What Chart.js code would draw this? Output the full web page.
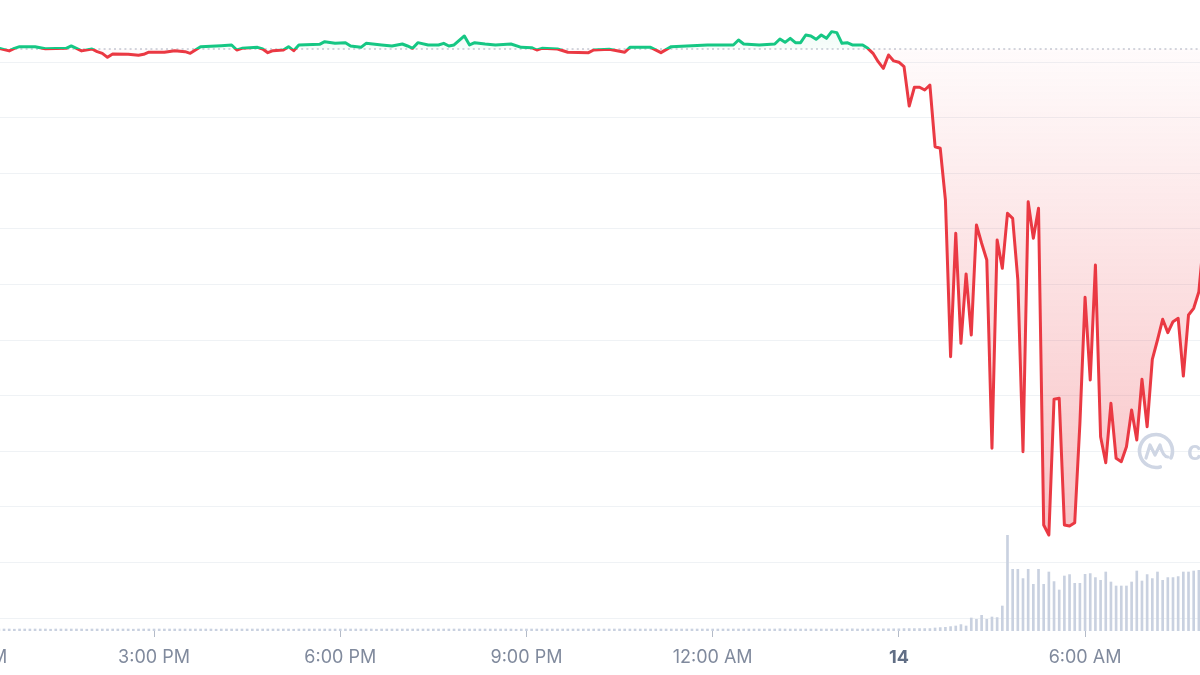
<!DOCTYPE html>
<html>
<head>
<meta charset="utf-8">
<script src="https://cdn.jsdelivr.net/npm/chart.js@4.4.0/dist/chart.umd.min.js"></script>
<style>
  html, body { margin: 0; padding: 0; background: #ffffff; overflow: hidden; width: 1200px; height: 675px; }
  #wrap { position: absolute; left: -120px; top: 0; width: 1440px; height: 675px; }
</style>
</head>
<body>
<div id="wrap"><canvas id="c"></canvas></div>
<script>
// ---------- DATA ----------
// x values are minutes after 12:00 PM (day 13)
const OPEN_PRICE = 1.0117;

const priceMinutes = [
  -10, 10, 20, 30, 40, 45, 50, 65, 75, 95, 100, 105, 110, 120, 125, 130, 135, 140, 155, 165,
  170, 175, 190, 200, 210, 215, 220, 225, 245, 255, 260, 265, 280, 285, 290, 295, 305, 310, 315, 320,
  340, 345, 355, 365, 370, 380, 385, 400, 410, 420, 425, 430, 435, 445, 455, 460, 465, 470, 480, 485,
  490, 500, 510, 525, 535, 545, 550, 555, 570, 580, 600, 605, 620, 635, 640, 660, 670, 680, 700, 715,
  740, 745, 750, 765, 780, 785, 790, 795, 800, 805, 810, 815, 820, 825, 830, 835, 840, 845, 850, 855,
  865, 870, 875, 880, 885, 890, 895, 900, 905, 910, 915, 920, 925, 930, 935, 940, 945, 950, 955, 960,
  965, 970, 975, 980, 985, 990, 995, 1000, 1005, 1010, 1015, 1020, 1025, 1030, 1035, 1040, 1045, 1050, 1055, 1060,
  1065, 1070, 1075, 1080, 1085, 1090, 1095, 1100, 1105, 1110, 1115, 1120, 1125, 1130, 1135, 1140, 1145, 1150, 1155, 1160,
  1165, 1170, 1175, 1180, 1185, 1190, 1195, 1200
];
const priceValues = [
  1.0128, 1.0120, 1.0128, 1.0123, 1.0100, 1.0123, 1.0138, 1.0138, 1.0120, 1.0123, 1.0144, 1.0123, 1.0100, 1.0117, 1.0093, 1.0078, 1.0042, 1.0072, 1.0069, 1.0060,
  1.0069, 1.0088, 1.0088, 1.0102, 1.0093, 1.0078, 1.0108, 1.0138, 1.0147, 1.0153, 1.0108, 1.0123, 1.0132, 1.0117, 1.0084, 1.0102, 1.0108, 1.0138, 1.0102, 1.0153,
  1.0159, 1.0183, 1.0168, 1.0174, 1.0144, 1.0132, 1.0168, 1.0153, 1.0144, 1.0162, 1.0144, 1.0123, 1.0174, 1.0153, 1.0153, 1.0168, 1.0144, 1.0153, 1.0234, 1.0153,
  1.0174, 1.0162, 1.0153, 1.0162, 1.0132, 1.0129, 1.0108, 1.0123, 1.0117, 1.0088, 1.0084, 1.0108, 1.0114, 1.0088, 1.0132, 1.0132, 1.0084, 1.0138, 1.0147, 1.0153,
  1.0153, 1.0198, 1.0162, 1.0153, 1.0162, 1.0207, 1.0177, 1.0213, 1.0174, 1.0174, 1.0243, 1.0234, 1.0204, 1.0243, 1.0213, 1.0273, 1.0264, 1.0168, 1.0174, 1.0153,
  1.0153, 1.0123, 1.0078, 1.0003, 0.9943, 1.0063, 1.0010, 0.9998, 0.9958, 0.9604, 0.9773, 0.9773, 0.9748, 0.9793, 0.9238, 0.9224, 0.8759, 0.7350, 0.8460, 0.7470,
  0.8094, 0.7545, 0.8534, 0.8370, 0.8219, 0.6526, 0.8399, 0.8145, 0.8639, 0.8594, 0.8040, 0.6496, 0.8744, 0.8415, 0.8684, 0.5836, 0.5746, 0.6967, 0.6976, 0.5836,
  0.5827, 0.5857, 0.6750, 0.7884, 0.7140, 0.8174, 0.6630, 0.6397, 0.6931, 0.6436, 0.6406, 0.6540, 0.6871, 0.6601, 0.7147, 0.6720, 0.7326, 0.7500, 0.7686, 0.7566,
  0.7665, 0.7695, 0.7176, 0.7725, 0.7785, 0.7934, 0.8444, 0.8759
];

// volume: one bar every 5 minutes, starting at minute 30
const VOLUME_START = 30;
const VOLUME_STEP = 5;
const volumeValues = [
  20, 20, 20, 18, 20, 20, 20, 20, 20, 20, 18, 20,
  20, 20, 20, 20, 20, 18, 20, 20, 20, 20, 20, 20,
  20, 20, 18, 20, 20, 20, 20, 20, 20, 20, 20, 20,
  20, 20, 20, 20, 20, 20, 18, 20, 20, 20, 20, 20,
  20, 20, 20, 20, 20, 20, 20, 20, 20, 18, 20, 20,
  20, 20, 20, 20, 20, 20, 20, 20, 20, 20, 20, 20,
  20, 18, 20, 20, 20, 20, 20, 20, 20, 20, 20, 20,
  20, 20, 20, 20, 20, 20, 20, 20, 20, 20, 20, 20,
  20, 20, 20, 20, 18, 20, 20, 20, 20, 20, 20, 20,
  20, 20, 20, 20, 20, 20, 20, 20, 20, 20, 20, 20,
  20, 20, 20, 20, 20, 20, 20, 20, 20, 20, 20, 20,
  20, 20, 20, 20, 20, 20, 20, 20, 20, 20, 20, 20,
  20, 20, 20, 20, 20, 20, 20, 22, 20, 20, 20, 20,
  20, 20, 20, 20, 20, 20, 20, 20, 20, 22, 20, 20,
  20, 22, 20, 22, 22, 22, 22,
  24, 24, 24, 24, 24, 24,
  30, 34, 37, 44, 50, 64, 50,
  130, 117, 157, 117, 140, 134, 250,
  957, 617, 617, 524, 617, 467, 617, 467,
  590, 494, 410, 550, 564, 477, 477, 567,
  574, 534, 507, 590, 490, 450, 450, 450,
  490, 600, 500, 564, 524, 590, 507, 534,
  534, 544, 590, 590, 600, 607, 610, 612
];

const tickMinutes = [0, 180, 360, 540, 720, 900, 1080, 1260];
const tickLabels = ['12:00 PM', '3:00 PM', '6:00 PM', '9:00 PM', '12:00 AM', '14', '6:00 AM', '9:00 AM'];
const gridValues = [0.50, 0.55, 0.60, 0.65, 0.70, 0.75, 0.80, 0.85, 0.90, 0.95, 1.00];

// visible window of the axes
const X_MIN = -84.9;
const X_MAX = 1307.1;
const Y_MIN = 0.48831;
const Y_MAX = 1.05576;
const VOL_MAX = 6310;

// ---------- STYLE ----------
const GREEN = '#16C784';
const RED = '#EA3943';

function lineGradient(chart) {
  const a = chart.chartArea;
  if (!a || !chart.scales.y) return RED;
  const r = chart.scales.y.getPixelForValue(OPEN_PRICE);
  const t = Math.min(Math.max((r - a.top) / (a.bottom - a.top), 0), 1);
  const g = chart.ctx.createLinearGradient(0, a.top, 0, a.bottom);
  g.addColorStop(0, GREEN);
  g.addColorStop(t, GREEN);
  g.addColorStop(t, RED);
  g.addColorStop(1, RED);
  return g;
}
function fillGradient(chart) {
  const a = chart.chartArea;
  if (!a || !chart.scales.y) return 'rgba(234,57,67,0.15)';
  const r = chart.scales.y.getPixelForValue(OPEN_PRICE);
  const t = Math.min(Math.max((r - a.top) / (a.bottom - a.top), 0), 1);
  const g = chart.ctx.createLinearGradient(0, a.top, 0, a.bottom);
  g.addColorStop(0, 'rgba(22,199,132,0.12)');
  g.addColorStop(t, 'rgba(22,199,132,0.03)');
  g.addColorStop(t, 'rgba(234,57,67,0.02)');
  g.addColorStop(0.84, 'rgba(234,57,67,0.30)');
  g.addColorStop(1, 'rgba(234,57,67,0.36)');
  return g;
}

const watermark = {
  id: 'watermark',
  beforeDatasetsDraw(chart) {
    const ctx = chart.ctx;
    const cx = 1276, cy = 451, r = 16.5;
    ctx.save();
    ctx.strokeStyle = '#CFD6E4';
    ctx.lineWidth = 3.6;
    ctx.lineCap = 'round';
    ctx.lineJoin = 'round';
    ctx.beginPath();
    ctx.arc(cx, cy, r, 75 * Math.PI / 180, (360 + 25) * Math.PI / 180);
    ctx.stroke();
    ctx.lineWidth = 3.2;
    ctx.beginPath();
    ctx.moveTo(cx - 10, cy + 7);
    ctx.lineTo(cx - 6, cy - 6);
    ctx.lineTo(cx - 1, cy + 4);
    ctx.lineTo(cx + 4, cy - 6);
    ctx.quadraticCurveTo(cx + 7, cy + 6, cx + 12, cy + 6);
    ctx.stroke();
    ctx.fillStyle = '#CFD6E4';
    ctx.font = '600 26px Inter';
    ctx.textBaseline = 'alphabetic';
    ctx.fillText('coinmarketcap', 1307, 460);
    ctx.restore();
  }
};

new Chart(document.getElementById('c').getContext('2d'), {
  type: 'line',
  data: {
    datasets: [
      {
        type: 'line',
        label: 'Price',
        data: priceMinutes.map((m, i) => ({ x: m, y: priceValues[i] })),
        yAxisID: 'y',
        order: 0,
        borderWidth: 3,
        borderColor: (c) => lineGradient(c.chart),
        backgroundColor: (c) => fillGradient(c.chart),
        fill: { target: { value: OPEN_PRICE } },
        pointRadius: 0,
        pointHoverRadius: 0,
        tension: 0,
        borderJoinStyle: 'round',
        borderCapStyle: 'round'
      },
      {
        type: 'line',
        label: 'Open',
        data: [{ x: X_MIN, y: OPEN_PRICE }, { x: X_MAX, y: OPEN_PRICE }],
        yAxisID: 'y',
        order: 1,
        borderWidth: 1.2,
        borderColor: '#A7AEBD',
        borderDash: [2, 3.2],
        pointRadius: 0,
        fill: false
      },
      {
        type: 'bar',
        label: 'Volume',
        data: volumeValues.map((v, i) => ({ x: VOLUME_START + i * VOLUME_STEP, y: v })),
        yAxisID: 'yv',
        order: 2,
        backgroundColor: '#C9D1E0',
        barThickness: 2,
        borderWidth: 0
      }
    ]
  },
  options: {
    responsive: true,
    maintainAspectRatio: false,
    animation: false,
    devicePixelRatio: 1,
    layout: { padding: 0 },
    plugins: { legend: { display: false }, tooltip: { enabled: false } },
    scales: {
      x: {
        type: 'linear',
        min: X_MIN,
        max: X_MAX,
        offset: false,
        afterBuildTicks: (s) => { s.ticks = tickMinutes.map(v => ({ value: v })); },
        afterFit: (s) => { s.height = 44; },
        ticks: {
          autoSkip: false,
          maxRotation: 0,
          minRotation: 0,
          padding: 10,
          callback: (v) => { const i = tickMinutes.indexOf(v); return i >= 0 ? tickLabels[i] : ''; },
          font: (c) => ({ family: 'Inter', size: 18, weight: (c.tick && c.tick.value === 900) ? '700' : '400' }),
          color: (c) => (c.tick && c.tick.value === 900) ? '#616E85' : '#808A9D'
        },
        grid: { drawOnChartArea: false, drawTicks: true, tickLength: 6, color: '#B4BBC8', offset: false },
        border: { display: false }
      },
      y: {
        position: 'right',
        min: Y_MIN,
        max: Y_MAX,
        afterBuildTicks: (s) => { s.ticks = gridValues.map(v => ({ value: v })); },
        afterFit: (s) => { s.width = 0; },
        ticks: { display: false },
        grid: { color: '#EFF2F5', lineWidth: 1, drawTicks: false },
        border: { display: false }
      },
      yv: {
        display: false,
        min: 0,
        max: VOL_MAX
      }
    }
  },
  plugins: [watermark]
});
</script>
</body>
</html>
